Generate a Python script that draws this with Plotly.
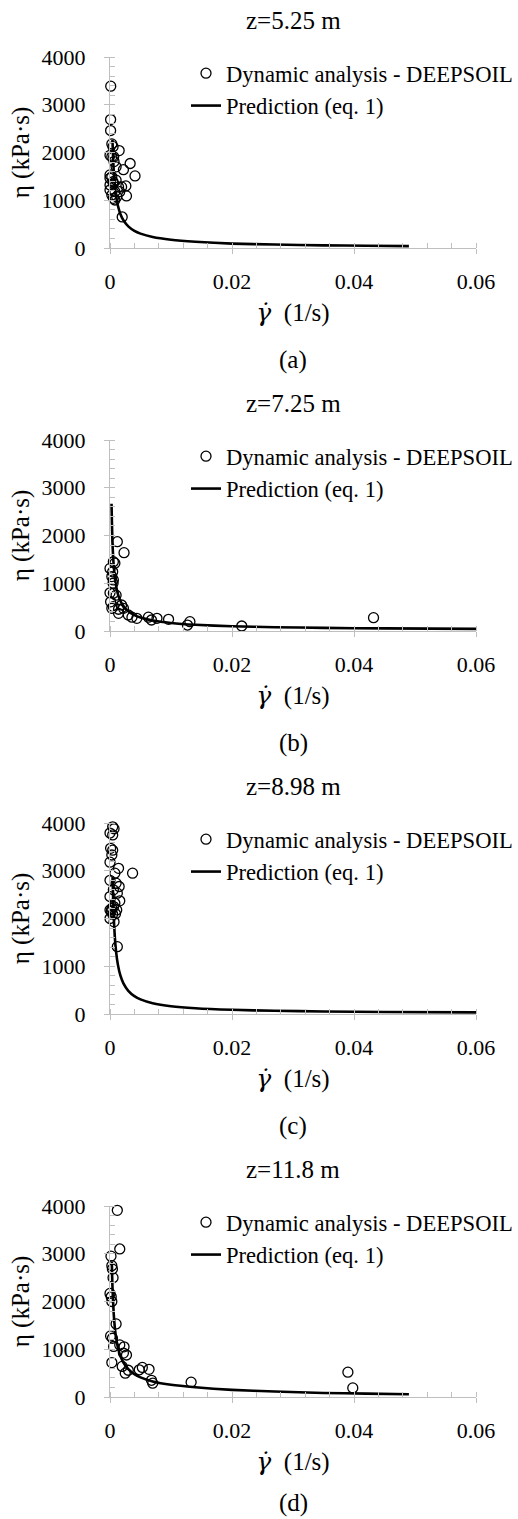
import plotly.graph_objects as go

W, H = 518, 1519

panel_titles = ["z=5.25 m", "z=7.25 m", "z=8.98 m", "z=11.8 m"]
captions = ["(a)", "(b)", "(c)", "(d)"]
x_ticks = [0, 0.02, 0.04, 0.06]
x_tick_labels = ["0", "0.02", "0.04", "0.06"]
y_ticks = [0, 1000, 2000, 3000, 4000]
y_tick_labels = ["0", "1000", "2000", "3000", "4000"]

# ---- (a) z=5.25 m ----
a_rate = [0.00012, 0.0001, 0.0001, 0.0003, 0.0005, 0.0015, 0.0, 0.0006, 0.0033, 0.0022,
          0.0041, 0.0026, 0.0027, 0.002, 0.0, 0.0003, 0.001, 0.0, 0.00055, 0.0014,
          0.0, 0.0008, 0.0003, 0.0011, 0.00055, 0.0008, 0.0016, 0.0019, 0.001, 0.00066,
          0.0003, 0.0, 0.0005]
a_eta = [3390, 2690, 2460, 2180, 2120, 2040, 1940, 1910, 1770, 1640,
         1510, 1300, 1090, 650, 1530, 1490, 1420, 1320, 1350, 1280,
         1215, 1180, 1110, 1075, 1040, 1005, 1180, 1280, 1700, 1810,
         1910, 1460, 1390]
a_pred_rate = [0.0004, 0.0006, 0.0008, 0.001, 0.0013, 0.0017, 0.0022, 0.003, 0.004, 0.005,
               0.007, 0.01, 0.014, 0.02, 0.027, 0.035, 0.042, 0.049]
a_pred_eta = [2266, 1642, 1303, 1090, 884, 713, 580, 453, 359, 301,
              230, 173, 130, 92, 72, 56, 47, 40]

# ---- (b) z=7.25 m ----
b_rate = [0.0012, 0.0023, 0.00055, 0.0008, 0.0, 0.00044, 0.00055, 0.0003, 0.0005, 0.0,
          0.00055, 0.001, 0.0001, 0.00055, 0.0003, 0.0014, 0.0019, 0.0022, 0.0014, 0.003,
          0.0036, 0.0044, 0.0063, 0.0068, 0.0077, 0.0096, 0.0127, 0.0131, 0.0216, 0.0432]
b_eta = [1870, 1640, 1450, 1420, 1310, 1240, 1070, 1140, 1000, 800,
         790, 750, 610, 510, 475, 455, 545, 475, 370, 335,
         290, 265, 290, 230, 265, 245, 125, 195, 105, 280]
b_pred_rate = [0.00025, 0.0004, 0.0006, 0.0008, 0.001, 0.0013, 0.0017, 0.0022, 0.003, 0.004,
               0.005, 0.007, 0.01, 0.014, 0.02, 0.027, 0.035, 0.045, 0.06]
b_pred_eta = [2666, 1875, 1383, 1114, 942, 774, 633, 522, 413, 333,
              282, 219, 168, 130, 100, 80, 65, 54, 44]

# ---- (c) z=8.98 m ----
c_rate = [0.00044, 0.00066, 0.0, 0.00044, 0.0001, 0.00044, 0.0003, 0.0, 0.0014, 0.0037,
          0.0008, 0.0, 0.001, 0.0015, 0.00055, 0.0012, 0.0, 0.0016, 0.0008, 0.0,
          0.0003, 0.0011, 0.00044, 0.0, 0.00066, 0.0012, 0.0002, 0.0006, 0.0009]
c_eta = [3920, 3880, 3790, 3750, 3470, 3430, 3330, 3180, 3050, 2950,
         2950, 2800, 2740, 2670, 2600, 2530, 2460, 2370, 2320, 2180,
         2210, 2180, 2090, 2000, 1930, 1410, 2150, 2250, 2100]
c_pred_rate = [0.00042, 0.0006, 0.0008, 0.001, 0.0013, 0.0017, 0.0022, 0.003, 0.004, 0.005,
               0.007, 0.01, 0.014, 0.02, 0.027, 0.035, 0.045, 0.06]
c_pred_eta = [2847, 2064, 1594, 1303, 1029, 808, 641, 485, 374, 306,
              226, 164, 121, 88, 67, 53, 42, 33]

# ---- (d) z=11.8 m ----
d_rate = [0.0012, 0.0016, 0.00016, 0.0003, 0.0004, 0.0005, 0.0, 0.0002, 0.0003, 0.001,
          0.0001, 0.0004, 0.0006, 0.0016, 0.0022, 0.0003, 0.002, 0.003, 0.0048, 0.0064,
          0.0053, 0.0025, 0.0068, 0.007, 0.0133, 0.039, 0.0398, 0.0023, 0.0027]
d_eta = [3910, 3100, 2950, 2750, 2680, 2500, 2170, 2100, 2000, 1530,
         1280, 1230, 1060, 1090, 920, 720, 640, 560, 570, 580,
         620, 500, 350, 290, 310, 520, 190, 1050, 880]
d_pred_rate = [0.0003, 0.0004, 0.0006, 0.0008, 0.001, 0.0013, 0.0017, 0.0022, 0.003, 0.004,
               0.005, 0.007, 0.01, 0.014, 0.02, 0.027, 0.035, 0.042, 0.049]
d_pred_eta = [2830, 2322, 1760, 1444, 1239, 1034, 861, 722, 583, 478,
              411, 326, 255, 203, 150, 115, 85, 70, 58]

panels = [
    (a_rate, a_eta, a_pred_rate, a_pred_eta),
    (b_rate, b_eta, b_pred_rate, b_pred_eta),
    (c_rate, c_eta, c_pred_rate, c_pred_eta),
    (d_rate, d_eta, d_pred_rate, d_pred_eta),
]

FONT = "Liberation Serif"
AXIS_GRAY = "#bfbfbf"
STEP = 383
X0, X1 = 110, 476
X_TITLE = '<span style="font-family:DejaVu Serif"><i>γ\u0307</i></span>  (1/s)'

fig = go.Figure()
layout = dict(
    width=W, height=H,
    margin=dict(l=0, r=0, t=0, b=0, autoexpand=False),
    paper_bgcolor="white", plot_bgcolor="white",
    font=dict(family=FONT, size=22, color="black"),
    annotations=[],
)

for i, (xr, ye, pxr, pye) in enumerate(panels):
    off = STEP * i
    top, bot = 57 + off, 248 + off
    sfx = "" if i == 0 else str(i + 1)
    xa, ya = "x" + sfx, "y" + sfx
    leg = "legend" + sfx
    fig.add_trace(go.Scatter(
        x=xr, y=ye, mode="markers", name="Dynamic analysis - DEEPSOIL",
        marker=dict(symbol="circle-open", size=10, color="black", line=dict(width=1.3, color="black")),
        xaxis=xa, yaxis=ya, legend=leg, cliponaxis=False, legendgroup="g1" + sfx,
    ))
    fig.add_trace(go.Scatter(
        x=pxr, y=pye, mode="lines", name="Prediction (eq. 1)",
        line=dict(color="black", width=2.6, shape="spline", smoothing=0.6),
        xaxis=xa, yaxis=ya, legend=leg, cliponaxis=False, legendgroup="g2" + sfx,
    ))
    common = dict(
        showgrid=False, zeroline=False, showline=True, linecolor=AXIS_GRAY, linewidth=1,
        ticks="outside", ticklen=5, tickcolor=AXIS_GRAY, tickwidth=1,
        tickfont=dict(family=FONT, size=22, color="black"),
    )
    layout["xaxis" + sfx] = dict(
        common, domain=[X0 / W, X1 / W], range=[0, 0.06], anchor=ya,
        tickvals=x_ticks, ticktext=x_tick_labels, ticklabelstandoff=9,
        minor=dict(dtick=0.004, ticks="inside", ticklen=5, tickcolor=AXIS_GRAY, tickwidth=1),
        title=dict(text=X_TITLE, font=dict(family=FONT, size=25), standoff=10),
    )
    layout["yaxis" + sfx] = dict(
        common, domain=[1 - bot / H, 1 - top / H], range=[0, 4000], anchor=xa,
        tickvals=y_ticks, ticktext=y_tick_labels, ticklabelstandoff=14,
        minor=dict(dtick=200, ticks="inside", ticklen=5, tickcolor=AXIS_GRAY, tickwidth=1),
        title=dict(text="η (kPa·s)", font=dict(family=FONT, size=25), standoff=4),
    )
    layout[leg] = dict(
        x=186 / W, y=1 - (52 + off) / H, xanchor="left", yanchor="top",
        bgcolor="rgba(0,0,0,0)", borderwidth=0,
        font=dict(family=FONT, size=22.6, color="black"),
        tracegroupgap=0, traceorder="grouped",
    )
    layout["annotations"].append(dict(
        text=panel_titles[i], x=(X0 + X1) / 2 / W, y=1 - (20 + off) / H,
        xref="paper", yref="paper", showarrow=False, xanchor="center", yanchor="middle",
        font=dict(family=FONT, size=25, color="black"),
    ))
    cap_y = min(360 + off, H - 16)
    layout["annotations"].append(dict(
        text=captions[i], x=(X0 + X1) / 2 / W, y=1 - cap_y / H,
        xref="paper", yref="paper", showarrow=False, xanchor="center", yanchor="middle",
        font=dict(family=FONT, size=25, color="black"),
    ))

fig.update_layout(**layout)
fig.write_html("out.html")
